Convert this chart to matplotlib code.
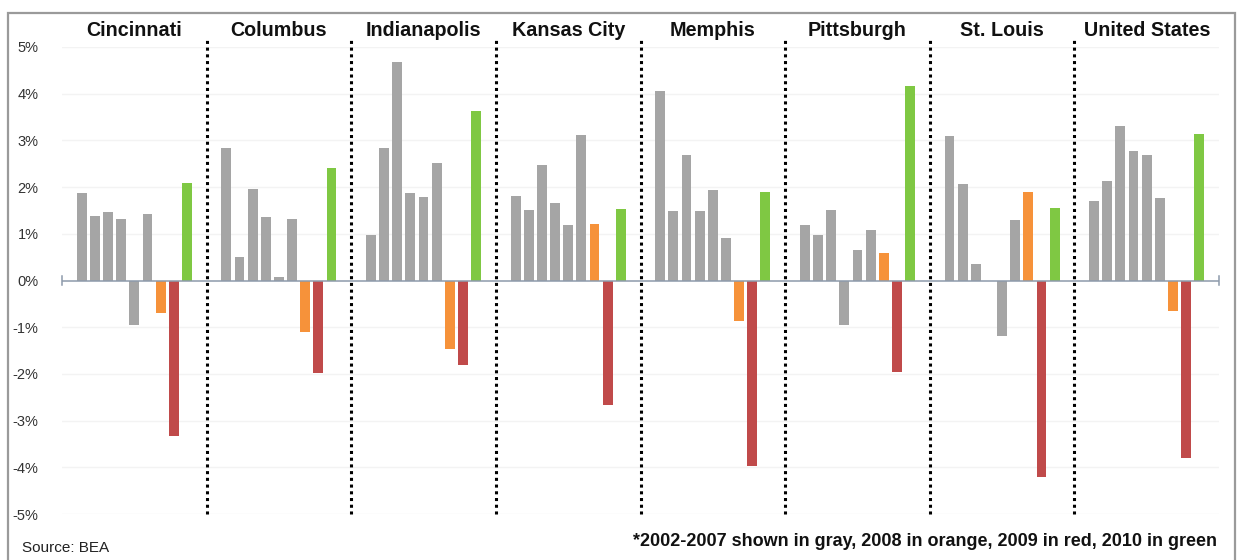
import matplotlib
matplotlib.use("Agg")
import matplotlib.pyplot as plt
from matplotlib.patches import Rectangle

plt.rcParams['font.family'] = ['Liberation Sans', 'DejaVu Sans']

cities = ["Cincinnati", "Columbus", "Indianapolis", "Kansas City",
          "Memphis", "Pittsburgh", "St. Louis", "United States"]
years = [2002, 2003, 2004, 2005, 2006, 2007, 2008, 2009, 2010]

cincinnati = [1.87, 1.39, 1.46, 1.32, -0.95, 1.43, -0.70, -3.34, 2.09]
columbus = [2.83, 0.50, 1.96, 1.37, 0.07, 1.31, -1.11, -1.98, 2.40]
indianapolis = [0.98, 2.83, 4.67, 1.88, 1.78, 2.51, -1.46, -1.81, 3.64]
kansas_city = [1.82, 1.50, 2.48, 1.66, 1.18, 3.12, 1.21, -2.66, 1.54]
memphis = [4.05, 1.48, 2.68, 1.48, 1.93, 0.91, -0.87, -3.98, 1.89]
pittsburgh = [1.19, 0.98, 1.50, -0.95, 0.66, 1.09, 0.59, -1.96, 4.16]
st_louis = [3.10, 2.07, 0.36, 0.00, -1.19, 1.30, 1.89, -4.21, 1.55]
united_states = [1.70, 2.14, 3.30, 2.78, 2.69, 1.76, -0.66, -3.80, 3.13]

series = [cincinnati, columbus, indianapolis, kansas_city,
          memphis, pittsburgh, st_louis, united_states]

yticks = [5, 4, 3, 2, 1, 0, -1, -2, -3, -4, -5]
ytick_labels = ["5%", "4%", "3%", "2%", "1%", "0%", "-1%", "-2%", "-3%", "-4%", "-5%"]

footnote = "*2002-2007 shown in gray, 2008 in orange, 2009 in red, 2010 in green"
source = "Source: BEA"

GRAY = "#A5A5A5"
ORANGE = "#F6923A"
RED = "#C04A4A"
GREEN = "#7FC843"

def year_color(y):
    if y <= 2007:
        return GRAY
    if y == 2008:
        return ORANGE
    if y == 2009:
        return RED
    return GREEN

W, H = 1239, 560
fig = plt.figure(figsize=(W / 100, H / 100), dpi=100)
ax_left, ax_right = 62, 1219
ax_top, ax_bot = 47, 514
ax = fig.add_axes([ax_left / W, (H - ax_bot) / H, (ax_right - ax_left) / W, (ax_bot - ax_top) / H])

slots = len(years) + 2
for g, vals in enumerate(series):
    xs = [g * slots + 1.5 + i for i in range(len(years))]
    cols = [year_color(y) for y in years]
    ax.bar(xs, vals, width=0.75, color=cols, zorder=3)
    # group label
    ax.text(g * slots + slots / 2, 5.36, cities[g], ha="center", va="center",
            fontsize=14.2, fontweight="bold", color="#111111", clip_on=False)
    if g > 0:
        ax.plot([g * slots, g * slots], [-5, 5.2], linestyle=(0, (1, 1.2)),
                color="black", lw=2.2, clip_on=False, zorder=4)

total = slots * len(series)
ax.set_xlim(0, total)
ax.set_ylim(-5, 5)

for yv in yticks:
    if yv != 0:
        ax.axhline(yv, color="#f3f3f3", lw=1, zorder=1)
ax.axhline(0, color="#8d9aab", lw=1.1, zorder=5)
for xe in (0, total):
    ax.plot([xe, xe], [-0.1, 0.1], color="#8d9aab", lw=1.1, clip_on=False, zorder=5)

ax.set_yticks(yticks)
ax.set_yticklabels(ytick_labels, fontsize=10.5, color="#333333")
ax.tick_params(axis="y", length=0, pad=17)
ax.set_xticks([])
for s in ax.spines.values():
    s.set_visible(False)
ax.patch.set_alpha(0)

fig.text(22 / W, 1 - 548 / H, source, fontsize=11, ha="left", va="center", color="#222222")
fig.text(1217 / W, 1 - 542 / H, footnote, fontsize=13, fontweight="bold",
         ha="right", va="center", color="#111111")

frame = Rectangle((8 / W, -0.02), (1235 - 8) / W, (H - 13) / H + 0.02,
                  transform=fig.transFigure, fill=False, edgecolor="#9a9a9a", lw=1.6)
fig.patches.append(frame)

fig.savefig("out.png", dpi=100)
